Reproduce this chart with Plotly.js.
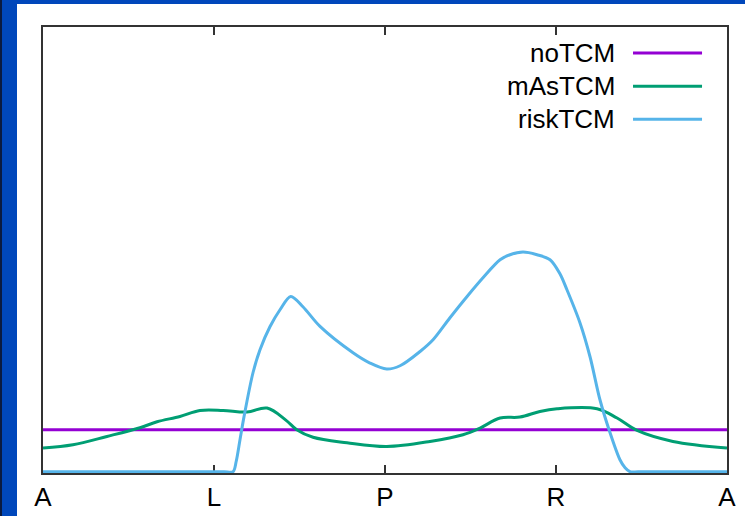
<!DOCTYPE html>
<html>
<head>
<meta charset="utf-8">
<script src="https://cdn.plot.ly/plotly-3.0.1.min.js"></script>
<style>
  html, body { margin: 0; padding: 0; background: #ffffff; }
  #bgTop { position: absolute; left: 0; top: 0; width: 745px; height: 4px; background: #0047bb; }
  #bgLeft { position: absolute; left: 0; top: 0; width: 17px; height: 516px; background: #0047bb; }
  #bgEdge { position: absolute; left: 0; top: 0; width: 2px; height: 516px; background: #0a1a40; }
  #chart { position: absolute; left: 0; top: 0; width: 745px; height: 516px; }
</style>
</head>
<body>
<div id="bgTop"></div>
<div id="bgLeft"></div>
<div id="bgEdge"></div>
<div id="chart"></div>
<script>
// Tick labels along the x axis
const tickLabels = ["A", "L", "P", "R", "A"];
const tickPositions = [0, 1, 2, 3, 4];

// Series names
const seriesNames = ["noTCM", "mAsTCM", "riskTCM"];

// noTCM (constant)
const noX = [0, 4];
const noY = [1.0, 1.0];

// mAsTCM
const masX = [0, 0.175, 0.374, 0.567, 0.667, 0.801, 0.918, 1.053, 1.193, 1.310, 1.420, 1.484, 1.579, 1.778, 2.010, 2.263, 2.456, 2.556, 2.673, 2.789, 2.906, 3.006, 3.240, 3.357, 3.474, 3.684, 4.0];
const masY = [0.564, 0.643, 0.840, 1.048, 1.190, 1.317, 1.460, 1.460, 1.421, 1.517, 1.230, 1.0, 0.820, 0.690, 0.600, 0.721, 0.881, 1.040, 1.279, 1.302, 1.436, 1.500, 1.500, 1.279, 0.983, 0.721, 0.564];

// riskTCM
const riskX = [0, 0.25, 0.5, 0.75, 0.95, 1.06, 1.111, 1.130, 1.152, 1.175, 1.228, 1.269, 1.327, 1.386, 1.449, 1.520, 1.620, 1.813, 1.912, 2.010, 2.088, 2.205, 2.281, 2.380, 2.480, 2.573, 2.673, 2.731, 2.807, 2.889, 2.965, 3.023, 3.064, 3.140, 3.199, 3.257, 3.316, 3.374, 3.404, 3.433, 3.48, 3.6, 3.8, 4.0];
const riskY = [0, 0, 0, 0, 0, 0, 0, 0.25, 0.762, 1.30, 2.357, 2.905, 3.452, 3.857, 4.174, 3.929, 3.460, 2.833, 2.588, 2.445, 2.524, 2.864, 3.143, 3.667, 4.174, 4.619, 5.048, 5.167, 5.231, 5.167, 5.048, 4.714, 4.333, 3.548, 2.738, 1.714, 0.929, 0.286, 0.095, 0, 0, 0, 0, 0];

const colors = ["#9400d3", "#009e73", "#56b4e9"];

const traces = [
  {x: noX, y: noY, name: seriesNames[0], mode: "lines", line: {color: colors[0], width: 3}},
  {x: masX, y: masY, name: seriesNames[1], mode: "lines", line: {color: colors[1], width: 3, shape: "spline", smoothing: 1}},
  {x: riskX, y: riskY, name: seriesNames[2], mode: "lines", line: {color: colors[2], width: 3, shape: "spline", smoothing: 0.9}}
];

// gnuplot-style legend: text right-aligned, sample line to the right
const legendRowsY = [0.9416, 0.8674, 0.7933];
const annotations = seriesNames.map((n, i) => ({
  xref: "paper", yref: "paper", x: 0.839, y: legendRowsY[i],
  text: n, showarrow: false, xanchor: "right", yanchor: "middle",
  font: {family: "Liberation Sans, Arial, sans-serif", size: 26, color: "#000"}
}));
const shapes = seriesNames.map((n, i) => ({
  type: "line", xref: "paper", yref: "paper",
  x0: 0.8626, x1: 0.9635, y0: legendRowsY[i], y1: legendRowsY[i],
  line: {color: colors[i], width: 3}
}));

const layout = {
  width: 745, height: 516,
  margin: {l: 43, r: 18, t: 27, b: 43, pad: 0},
  paper_bgcolor: "rgba(0,0,0,0)",
  plot_bgcolor: "#ffffff",
  showlegend: false,
  font: {family: "Liberation Sans, Arial, sans-serif", size: 26, color: "#000"},
  xaxis: {
    range: [0, 4], tickvals: tickPositions, ticktext: tickLabels,
    ticks: "inside", ticklen: 8, tickwidth: 1.5, tickcolor: "#333",
    showline: true, linecolor: "#333", linewidth: 2, mirror: "ticks",
    showgrid: false, zeroline: false, layer: "below traces",
    tickfont: {size: 26, color: "#000"}
  },
  yaxis: {
    range: [-0.03, 10.59], showticklabels: false, ticks: "",
    showline: true, linecolor: "#333", linewidth: 2, mirror: true,
    showgrid: false, zeroline: false, layer: "below traces"
  },
  annotations: annotations,
  shapes: shapes
};

Plotly.newPlot("chart", traces, layout, {displayModeBar: false, staticPlot: true});
</script>
</body>
</html>
